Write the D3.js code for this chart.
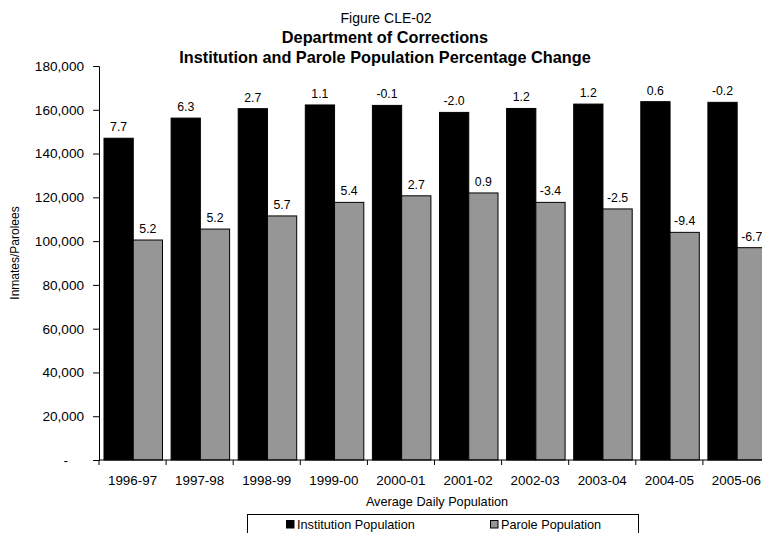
<!DOCTYPE html>
<html>
<head>
<meta charset="utf-8">
<script src="https://cdn.jsdelivr.net/npm/d3@7"></script>
<style>
  html, body { margin: 0; padding: 0; background: #fff; }
  svg { display: block; font-family: "Liberation Sans", Arial, sans-serif; }
</style>
</head>
<body>
<svg id="chart" width="762" height="533"></svg>
<script>
// Fiscal years on the x axis
const years = ["1996-97", "1997-98", "1998-99", "1999-00", "2000-01",
               "2001-02", "2002-03", "2003-04", "2004-05", "2005-06"];

// Average daily population
const institutionPop = [147000, 156200, 160500, 162200, 162000,
                        158800, 160600, 162600, 163700, 163400];
const parolePop = [100500, 105500, 111500, 117700, 120700,
                   122000, 117700, 114700, 104000, 97000];

// Year-over-year percentage change shown above each bar
const institutionChange = ["7.7", "6.3", "2.7", "1.1", "-0.1",
                           "-2.0", "1.2", "1.2", "0.6", "-0.2"];
const paroleChange = ["5.2", "5.2", "5.7", "5.4", "2.7",
                      "0.9", "-3.4", "-2.5", "-9.4", "-6.7"];

const seriesNames = ["Institution Population", "Parole Population"];
const seriesColors = ["#000000", "#969696"];
const yTicks = [0, 20000, 40000, 60000, 80000, 100000, 120000, 140000, 160000, 180000];

const svg = d3.select("#chart");
const plotLeft = 99, plotRight = 770, plotTop = 66, plotBottom = 460;

const x0 = d3.scaleBand().domain(years).range([plotLeft, plotRight]).padding(0);
const x1 = d3.scaleBand().domain(seriesNames).range([5, x0.bandwidth() - 3.6]).padding(0);
const y = d3.scaleLinear().domain([0, 180000]).range([plotBottom, plotTop]);

// Titles
const titles = svg.append("g").attr("text-anchor", "middle");
titles.append("text").attr("x", 386).attr("y", 22.5)
  .attr("font-size", 14).text("Figure CLE-02");
titles.append("text").attr("x", 385).attr("y", 42.5)
  .attr("font-size", 16.3).attr("font-weight", "bold").text("Department of Corrections");
titles.append("text").attr("x", 385).attr("y", 63)
  .attr("font-size", 16.3).attr("font-weight", "bold")
  .text("Institution and Parole Population Percentage Change");

// Bars
const rows = years.map((yr, i) => ({
  year: yr,
  values: [
    { name: seriesNames[0], value: institutionPop[i], label: institutionChange[i], color: seriesColors[0] },
    { name: seriesNames[1], value: parolePop[i], label: paroleChange[i], color: seriesColors[1] }
  ]
}));

const groups = svg.append("g").selectAll("g").data(rows).join("g")
  .attr("transform", d => `translate(${x0(d.year)},0)`);

groups.selectAll("rect").data(d => d.values).join("rect")
  .attr("x", d => x1(d.name))
  .attr("y", d => y(d.value))
  .attr("width", x1.bandwidth())
  .attr("height", d => y(0) - y(d.value))
  .attr("fill", d => d.color)
  .attr("stroke", "#000")
  .attr("stroke-width", 1);

groups.selectAll("text").data(d => d.values).join("text")
  .attr("x", d => x1(d.name) + x1.bandwidth() / 2)
  .attr("y", d => y(d.value) - 7)
  .attr("text-anchor", "middle")
  .attr("font-size", 12.3)
  .attr("fill", "#000")
  .text(d => d.label);

// Y axis
const yAxis = svg.append("g").attr("transform", `translate(${plotLeft},0)`)
  .call(d3.axisLeft(y).tickValues(yTicks).tickSize(6).tickPadding(9)
    .tickFormat(v => v === 0 ? "-" : d3.format(",")(v)));
yAxis.selectAll("text").attr("font-size", 13.6).attr("font-family", "Liberation Sans, Arial, sans-serif").attr("fill", "#000");
yAxis.selectAll("text").filter(v => v === 0).attr("x", -31);
yAxis.selectAll("line, path").attr("stroke", "#000");

// X axis with ticks at category boundaries
const xAxis = svg.append("g").attr("transform", `translate(0,${plotBottom})`);
xAxis.append("line").attr("x1", plotLeft).attr("x2", plotRight).attr("stroke", "#000");
xAxis.selectAll("line.tick").data(years.concat(["end"])).join("line")
  .attr("class", "tick")
  .attr("x1", (d, i) => plotLeft + i * x0.step()).attr("x2", (d, i) => plotLeft + i * x0.step())
  .attr("y1", 0).attr("y2", 5).attr("stroke", "#000");
xAxis.selectAll("text").data(years).join("text")
  .attr("x", d => x0(d) + x0.bandwidth() / 2)
  .attr("y", 25)
  .attr("text-anchor", "middle")
  .attr("font-size", 13.4)
  .text(d => d);

svg.append("text").attr("x", 437).attr("y", 506)
  .attr("text-anchor", "middle").attr("font-size", 12.7)
  .text("Average Daily Population");

svg.append("text")
  .attr("transform", "translate(19,253) rotate(-90)")
  .attr("text-anchor", "middle").attr("font-size", 12)
  .text("Inmates/Parolees");

// Legend
const legend = svg.append("g");
legend.append("rect").attr("x", 247.5).attr("y", 514.5).attr("width", 391).attr("height", 30)
  .attr("fill", "#fff").attr("stroke", "#000");
const legendX = [286, 490];
seriesNames.forEach((name, i) => {
  legend.append("rect").attr("x", legendX[i] + 0.5).attr("y", 520.5).attr("width", 7.5).attr("height", 7.5)
    .attr("fill", seriesColors[i]).attr("stroke", "#000");
  legend.append("text").attr("x", legendX[i] + 11).attr("y", 528.5)
    .attr("font-size", 12.7).text(name);
});
</script>
</body>
</html>
